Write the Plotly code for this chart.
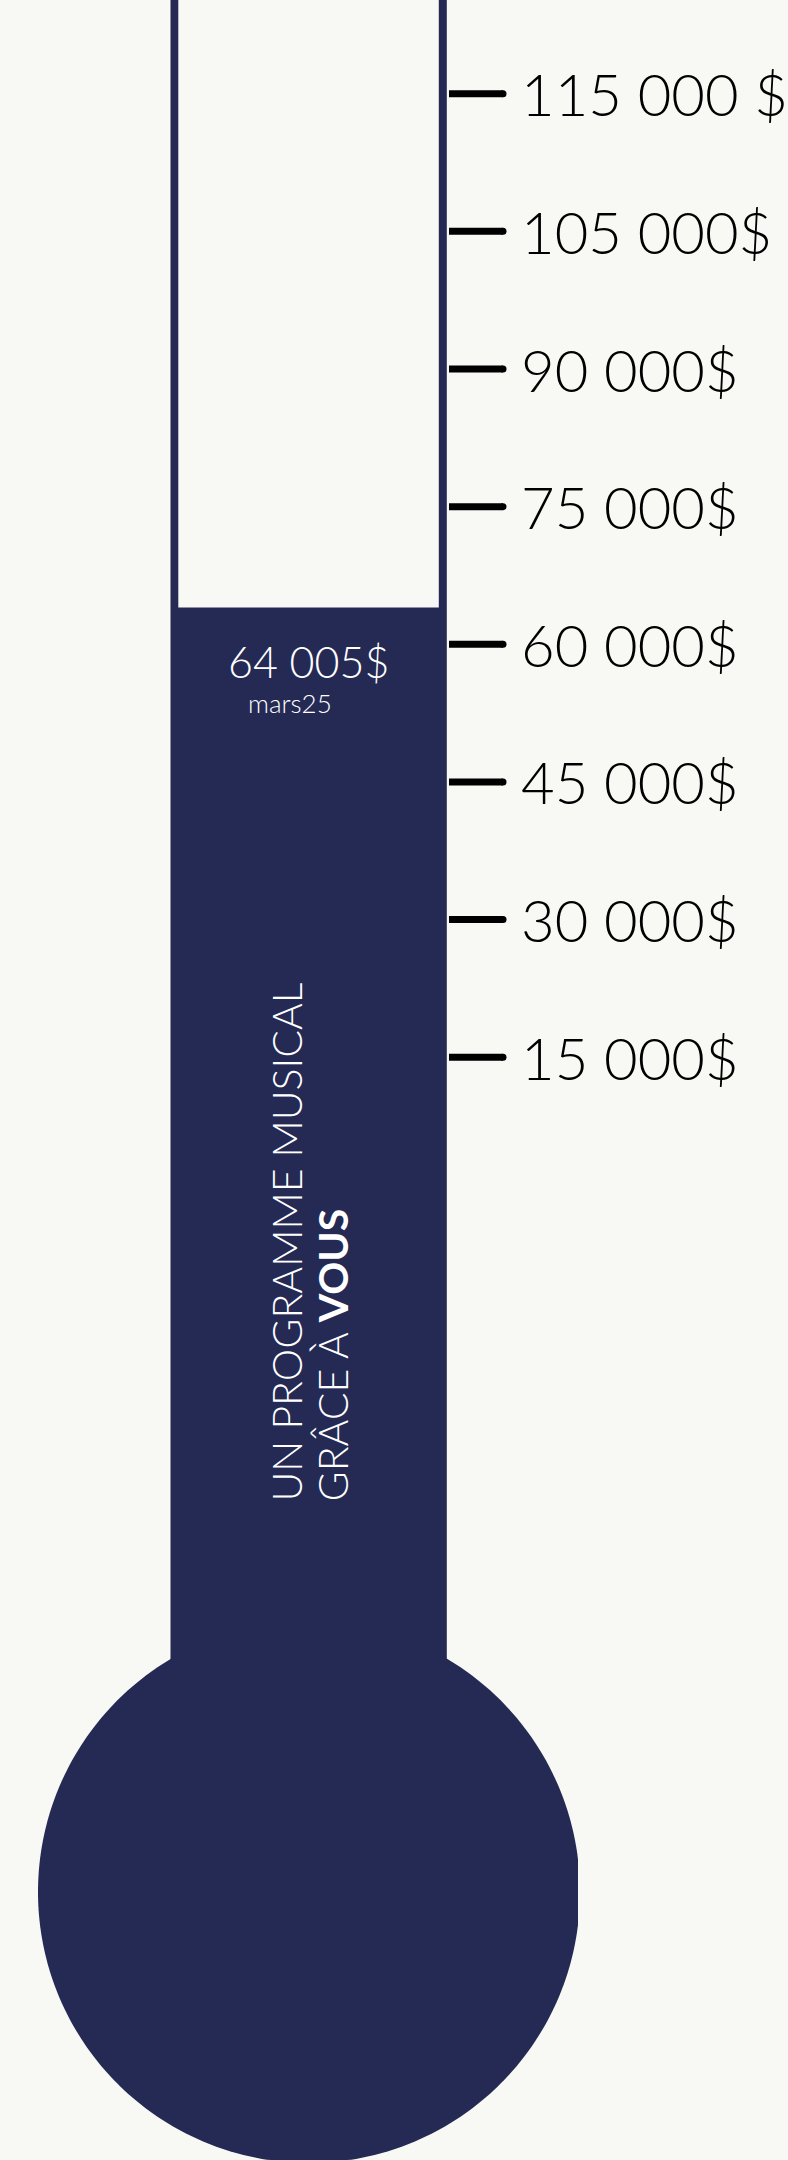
import numpy as np
import plotly.graph_objects as go

# ---------------- data ----------------
tick_labels = ["15 000$", "30 000$", "45 000$", "60 000$", "75 000$", "90 000$", "105 000$", "115 000 $"]
tick_values = [15000, 30000, 45000, 60000, 75000, 90000, 105000, 115000]
tick_levels = [1, 2, 3, 4, 5, 6, 7, 8]
raised_value = 64005
raised_label = "64 005$"
date_label = "mars25"
slogan_line1 = "UN PROGRAMME MUSICAL"
slogan_line2 = "GRÂCE À <b>VOUS</b>"

# ---------------- style ----------------
W, H = 788, 2160
BG = "#F8F9F4"
NAVY = "#242A54"
FONT = "Lato"

raised_level = float(np.interp(raised_value, tick_values, tick_levels))

# y axis in "level" units: level 8 at 93.7px from top, 137.65 px per level
px_per_level = 137.65
top_px = 93.7
y_hi = 8 + top_px / px_per_level
y_lo = 8 - (H - top_px) / px_per_level

def paper_y(py):
    return 1 - py / H

fig = go.Figure()

# bulb (circle clipped on the right)
cx, cy, r = 309.0, 1892.0, 271.0
t = np.linspace(0, 2 * np.pi, 361)
bx = np.minimum(cx + r * np.cos(t), 578.0)
by = np.minimum(cy + r * np.sin(t), H)
path = "M " + " L ".join(f"{x:.2f},{paper_y(y):.5f}" for x, y in zip(bx, by)) + " Z"

shapes = [
    dict(type="rect", xref="x", yref="paper", x0=170.5, x1=446.8,
         y0=paper_y(1700), y1=1.0, fillcolor=NAVY, line=dict(width=0), layer="below"),
    dict(type="path", xref="x", yref="paper", path=path, fillcolor=NAVY,
         line=dict(width=0), layer="below"),
    dict(type="rect", xref="x", yref="y", x0=178.3, x1=438.8,
         y0=raised_level, y1=y_hi + 0.5, fillcolor=BG,
         line=dict(width=0), layer="below"),
]

# tick marks
for lv in tick_levels:
    fig.add_trace(go.Scatter(
        x=[449, 503], y=[lv, lv], mode="lines",
        line=dict(color="#000000", width=7), hoverinfo="skip", showlegend=False))
fig.add_trace(go.Scatter(
    x=[503] * len(tick_levels), y=tick_levels, mode="markers",
    marker=dict(color="#000000", size=7, line=dict(width=0)),
    hoverinfo="skip", showlegend=False))

annotations = []
# tick labels
for lv, lab in zip(tick_levels, tick_labels):
    annotations.append(dict(
        x=519, y=lv, xref="x", yref="y", text=lab, showarrow=False,
        xanchor="left", yanchor="middle", yshift=0,
        font=dict(family=FONT, size=58, color="#000000", weight=300)))

annotations += [
    dict(x=308.5, y=raised_level, xref="x", yref="y", text=raised_label,
         showarrow=False, yshift=-54, xanchor="center", yanchor="middle",
         font=dict(family=FONT, size=43, color="#FFFFFF", weight=300)),
    dict(x=290, y=raised_level, xref="x", yref="y", text=date_label,
         showarrow=False, yshift=-95, xanchor="center", yanchor="middle",
         font=dict(family=FONT, size=26, color="#FFFFFF", weight=300)),
    dict(x=286, y=paper_y(1504), xref="x", yref="paper",
         text=slogan_line1, textangle=-90,
         showarrow=False, xanchor="center", yanchor="bottom",
         font=dict(family=FONT, size=41, color="#FFFFFF", weight=300)),
    dict(x=332, y=paper_y(1504), xref="x", yref="paper",
         text=slogan_line2, textangle=-90,
         showarrow=False, xanchor="center", yanchor="bottom",
         font=dict(family=FONT, size=41, color="#FFFFFF", weight=300)),
]

fig.update_layout(
    width=W, height=H,
    margin=dict(l=0, r=0, t=0, b=0),
    paper_bgcolor=BG, plot_bgcolor=BG,
    shapes=shapes, annotations=annotations,
    xaxis=dict(range=[0, W], visible=False, fixedrange=True),
    yaxis=dict(range=[y_lo, y_hi], visible=False, fixedrange=True),
    showlegend=False,
)

fig.write_html("out.html", config={"displayModeBar": False},
               post_script="document.body.style.margin='0px';")
